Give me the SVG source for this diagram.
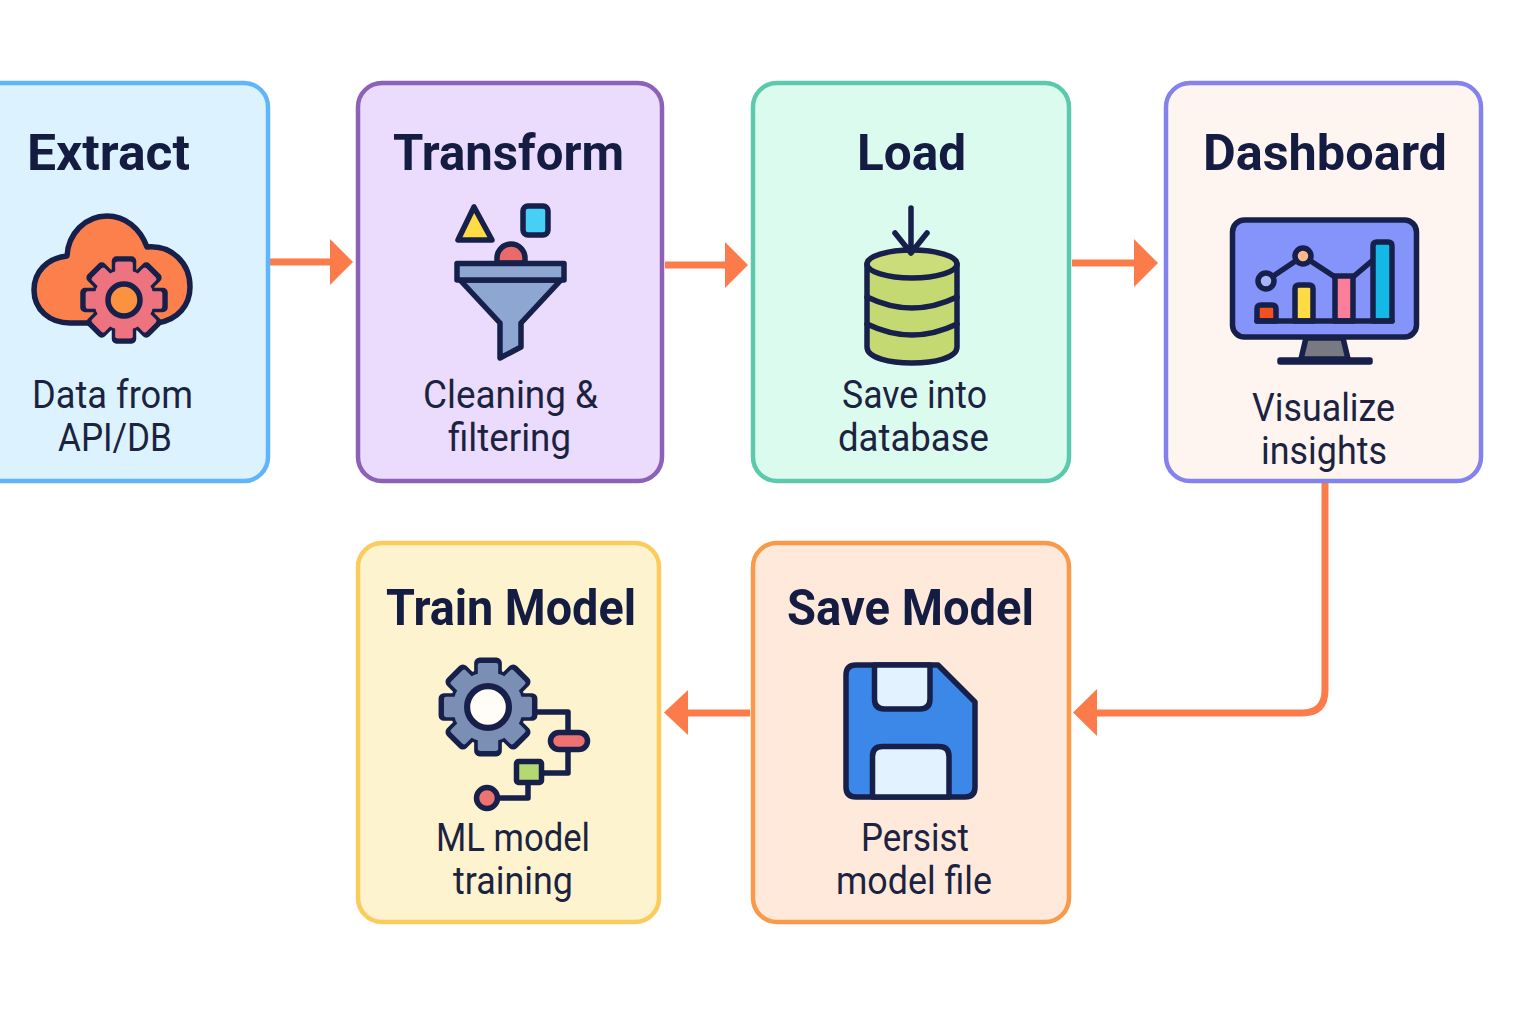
<svg xmlns="http://www.w3.org/2000/svg" xmlns:xlink="http://www.w3.org/1999/xlink" width="1536" height="1024" viewBox="0 0 1536 1024">
<style>
.box{stroke-width:4.5}
.t{font-family:Roboto,"Liberation Sans",sans-serif;font-weight:700;font-size:50px;fill:#141c42}
.b{font-family:Roboto,"Liberation Sans",sans-serif;font-weight:400;font-size:38px;fill:#1c2340}
.i{stroke:#16204a;stroke-width:5.500;stroke-linejoin:round;stroke-linecap:round}
.n{fill:none}
.c{fill:none;stroke:#fb7c4a;stroke-width:7}
.h{fill:#fb7c4a}
</style>
<defs>
<g id="teeth">
<rect x="-9.500" y="-41" width="19" height="82" rx="2"/>
<rect x="-9.500" y="-41" width="19" height="82" rx="2" transform="rotate(45)"/>
<rect x="-9.500" y="-41" width="19" height="82" rx="2" transform="rotate(90)"/>
<rect x="-9.500" y="-41" width="19" height="82" rx="2" transform="rotate(135)"/>
</g>
</defs>
<rect width="1536" height="1024" fill="#fff"/>
<g id="connectors">
<path class="c" d="M270 262H332"/><path class="h" d="M330 239L353 262L330 285Z"/>
<path class="c" d="M665 265H727"/><path class="h" d="M725 242L748 265L725 288Z"/>
<path class="c" d="M1072 263H1136"/><path class="h" d="M1134 239L1158 263L1134 287Z"/>
<path class="c" d="M1325 483V690Q1325 713 1302 713H1095"/><path class="h" d="M1097 689L1073 712.500L1097 736Z"/>
<path class="c" d="M750 713H686"/><path class="h" d="M688 690L664 712.500L688 735Z"/>
</g>
<g id="extract">
<rect class="box" x="-30" y="83" width="298" height="398" rx="24" fill="#dcf3ff" stroke="#60b5fa"/>
<text class="t" x="27" y="170" textLength="163" lengthAdjust="spacingAndGlyphs">Extract</text>
<path class="i" fill="#fb804c" d="M157 323C178 320 190 305 190 287C190 263 172 245 147 247C140 228 125 216 107 216C85 216 68 234 67 256C47 258 34 272 34 290C34 310 50 323 70 323Z"/>
<g transform="translate(124 300)">
<use href="#teeth" class="i" fill="#ee7380"/>
<circle r="30" class="i" fill="#ee7380"/>
<use href="#teeth" fill="#ee7380" transform="scale(.93)"/>
<circle r="30" fill="#ee7380"/>
<circle r="16" class="i" fill="#fb923f"/>
</g>
<text class="b" x="32" y="408" textLength="161" lengthAdjust="spacingAndGlyphs">Data from</text>
<text class="b" x="58" y="451" textLength="114" lengthAdjust="spacingAndGlyphs">API/DB</text>
</g>
<g id="transform">
<rect class="box" x="358" y="83" width="304" height="398" rx="24" fill="#ebdcfd" stroke="#8b62b8"/>
<text class="t" x="393" y="170" textLength="231" lengthAdjust="spacingAndGlyphs">Transform</text>
<path class="i" fill="#ffdc45" d="M474 207L458 240H492Z"/>
<rect class="i" x="523" y="206" width="25" height="29" rx="5" fill="#48cff5"/>
<path class="i" fill="#e96a6a" d="M497 263V258A13.500 13.500 0 0 1 525 258V263Z"/>
<path class="i" fill="#8ea6d2" d="M460 280H561L521 323V347L500 358V323Z"/>
<rect class="i" x="457" y="263.500" width="107" height="16.500" fill="#8ea6d2"/>
<text class="b" x="423" y="408" textLength="175" lengthAdjust="spacingAndGlyphs">Cleaning &amp;</text>
<text class="b" x="448" y="451" textLength="123" lengthAdjust="spacingAndGlyphs">filtering</text>
</g>
<g id="load">
<rect class="box" x="753" y="83" width="316" height="398" rx="24" fill="#dcfbef" stroke="#5cc9ad"/>
<text class="t" x="857" y="170" textLength="109" lengthAdjust="spacingAndGlyphs">Load</text>
<path class="i" fill="#c5d972" d="M867 264V347C867 358 890 363 912 363S957 358 957 347V264Z"/>
<path class="i n" d="M867 297Q912 319 957 297M867 324Q912 346 957 324"/>
<ellipse class="i" cx="912" cy="264" rx="45" ry="14" fill="#cbdd78"/>
<path class="i n" d="M911 208V253M895 233L911 253L927 233"/>
<text class="b" x="842" y="408" textLength="145" lengthAdjust="spacingAndGlyphs">Save into</text>
<text class="b" x="838" y="451" textLength="151" lengthAdjust="spacingAndGlyphs">database</text>
</g>
<g id="dashboard">
<rect class="box" x="1166" y="83" width="315" height="398" rx="24" fill="#fef4f0" stroke="#8482ec"/>
<text class="t" x="1203" y="170" textLength="244" lengthAdjust="spacingAndGlyphs">Dashboard</text>
<path class="i" fill="#777a80" d="M1306 338H1343L1348 359H1301Z"/>
<rect class="i" x="1280" y="360" width="90" height="2" fill="#16204a"/>
<rect class="i" x="1232.500" y="220" width="184" height="117" rx="12" fill="#8494fb"/>
<path class="i n" d="M1266 281L1303 256L1335 277H1353L1373 260"/>
<path class="i" fill="#f4511e" d="M1257 321V309Q1257 305 1261 305H1272Q1276 305 1276 309V321Z"/>
<path class="i" fill="#ffdc45" d="M1295 321V289Q1295 285 1299 285H1309Q1313 285 1313 289V321Z"/>
<path class="i" fill="#fb7f9b" d="M1335 321V276H1353V321Z"/>
<path class="i" fill="#14b8e6" d="M1373 321V246Q1373 242 1377 242H1388Q1392 242 1392 246V321Z"/>
<path class="i n" d="M1257 321H1392"/>
<circle class="i" cx="1266" cy="281" r="8" fill="#aab4fb"/>
<circle class="i" cx="1303" cy="256" r="8" fill="#fdb98a"/>
<text class="b" x="1252" y="421" textLength="143" lengthAdjust="spacingAndGlyphs">Visualize</text>
<text class="b" x="1261" y="464" textLength="126" lengthAdjust="spacingAndGlyphs">insights</text>
</g>
<g id="save-model">
<rect class="box" x="753" y="543" width="316" height="379" rx="24" fill="#fee9db" stroke="#f9994a"/>
<text class="t" x="787" y="625" textLength="247" lengthAdjust="spacingAndGlyphs">Save Model</text>
<path class="i" fill="#3b88e8" d="M856 665H938L975 702V787Q975 797 965 797H856Q846 797 846 787V675Q846 665 856 665Z"/>
<path class="i" fill="#e2f2ff" d="M874.500 665V699Q874.500 709 884.500 709H920Q930 709 930 699V665Z"/>
<path class="i" fill="#e2f2ff" d="M872.500 797V756.500Q872.500 746.500 882.500 746.500H939Q949 746.500 949 756.500V797Z"/>
<text class="b" x="861" y="851" textLength="108" lengthAdjust="spacingAndGlyphs">Persist</text>
<text class="b" x="836" y="894" textLength="156" lengthAdjust="spacingAndGlyphs">model file</text>
</g>
<g id="train-model">
<rect class="box" x="358" y="543" width="301" height="379" rx="24" fill="#fdf3cf" stroke="#fbcb5b"/>
<text class="t" x="386" y="625" textLength="250" lengthAdjust="spacingAndGlyphs">Train Model</text>
<path class="i n" d="M530 712H568V773H543M528 784V798H498"/>
<g transform="translate(488 707) scale(1.13)">
<use href="#teeth" class="i" fill="#7b8fb5"/>
<circle r="31" class="i" fill="#7b8fb5"/>
<use href="#teeth" fill="#7b8fb5" transform="scale(.95)"/>
<circle r="31" fill="#7b8fb5"/>
<circle r="18.500" class="i" fill="#fffdf6"/>
</g>
<rect class="i" x="550.500" y="732.500" width="37" height="17" rx="8.500" fill="#ef7272"/>
<rect class="i" x="516.500" y="761.500" width="25" height="21" rx="2" fill="#b5d971"/>
<circle class="i" cx="487" cy="798" r="10.500" fill="#ef7272"/>
<text class="b" x="436" y="851" textLength="154" lengthAdjust="spacingAndGlyphs">ML model</text>
<text class="b" x="453" y="894" textLength="120" lengthAdjust="spacingAndGlyphs">training</text>
</g>
</svg>
